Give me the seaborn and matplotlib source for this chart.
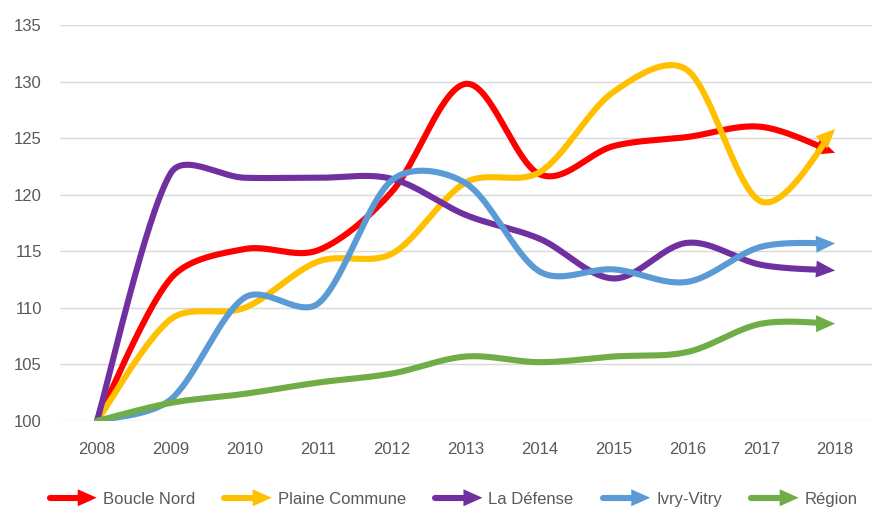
import numpy as np
import pandas as pd
import matplotlib
matplotlib.use("Agg")
import matplotlib.pyplot as plt
import seaborn as sns
from matplotlib.lines import Line2D
from matplotlib.patches import Polygon
from matplotlib.legend_handler import HandlerBase

# Indices par pôle (base 100 en 2008)
annees = [2008, 2009, 2010, 2011, 2012, 2013, 2014, 2015, 2016, 2017, 2018]
boucle_nord = [100, 112.6, 115.2, 115.1, 120.3, 129.8, 121.8, 124.3, 125.1, 126.0, 123.7]
plaine_commune = [100, 109.0, 110.0, 114.1, 114.8, 121.1, 122.0, 129.1, 131.0, 119.4, 125.8]
la_defense = [100, 121.9, 121.5, 121.5, 121.4, 118.2, 116.1, 112.6, 115.75, 113.8, 113.3]
ivry_vitry = [100, 101.9, 110.9, 110.4, 121.3, 121.0, 113.2, 113.4, 112.3, 115.4, 115.7]
region = [100, 101.6, 102.4, 103.4, 104.2, 105.7, 105.2, 105.7, 106.1, 108.6, 108.6]

series = ["Boucle Nord", "Plaine Commune", "La Défense", "Ivry-Vitry", "Région"]
valeurs = [boucle_nord, plaine_commune, la_defense, ivry_vitry, region]
couleurs = ["#FF0000", "#FFC000", "#7030A0", "#5B9BD5", "#70AD47"]

GRIS = "#595959"
LW = 4.4          # epaisseur des courbes (pt)
HEAD_L = 19       # longueur de la pointe (px)
HEAD_W = 17       # largeur de la pointe (px)
FS = 12

sns.set_style("white")
plt.rcParams["font.family"] = ["Liberation Sans", "DejaVu Sans"]


def lissage_pix(pts, n=40):
    """Courbe lissee facon Excel (Bezier), calculee en pixels"""
    P = np.vstack([pts[0], pts, pts[-1]])
    out = [pts[0]]
    t = np.linspace(0, 1, n)[1:, None]
    for i in range(len(pts) - 1):
        p0, p1, p2, p3 = P[i], P[i + 1], P[i + 2], P[i + 3]
        seg = np.linalg.norm(p2 - p1)
        t1 = (p2 - p0) / 6
        t2 = (p3 - p1) / 6
        # on limite la tangente a un tiers du segment (moins de depassement)
        if np.linalg.norm(t1) > seg / 3:
            t1 = t1 / np.linalg.norm(t1) * seg / 3
        if np.linalg.norm(t2) > seg / 3:
            t2 = t2 / np.linalg.norm(t2) * seg / 3
        c1 = p1 + t1
        c2 = p2 - t2
        b = (1 - t) ** 3 * p1 + 3 * (1 - t) ** 2 * t * c1 + 3 * (1 - t) * t ** 2 * c2 + t ** 3 * p2
        out.extend(b)
    return np.array(out)


class HandlerFleche(HandlerBase):
    """Legende : trait + pointe de fleche"""
    def create_artists(self, legend, orig_handle, xdescent, ydescent,
                       width, height, fontsize, trans):
        c = orig_handle.get_color()
        y = height / 2 - ydescent
        x0 = -xdescent
        hl, hw = HEAD_L * 0.72, HEAD_W * 0.72
        ligne = Line2D([x0 + 2, x0 + width - hl + 1], [y, y], color=c, lw=LW,
                       solid_capstyle="round", transform=trans)
        tri = Polygon([[x0 + width - hl, y - hw / 2], [x0 + width, y],
                       [x0 + width - hl, y + hw / 2]], closed=True,
                      fc=c, ec="none", transform=trans)
        return [ligne, tri]


fig = plt.figure(figsize=(8.73, 5.14), dpi=100)
ax = fig.add_axes([60 / 873, 1 - 421 / 514, 812 / 873, 396 / 514])
ax.set_xlim(2007.5, 2018.5)
ax.set_ylim(100, 135)

# construction des courbes lissees, coupees avant la pointe
lignes = []
pointes = []
inv = ax.transData.inverted()
for nom, vals in zip(series, valeurs):
    pts = ax.transData.transform(np.column_stack([annees, vals]))
    pix = lissage_pix(pts)
    tip = pts[-1]
    d = (tip - pts[-2]) / np.linalg.norm(tip - pts[-2])
    dist = np.linalg.norm(pix - tip, axis=1)
    garde = dist >= HEAD_L * 0.85
    garde[: len(garde) // 2] = True
    courbe = inv.transform(pix[garde])
    lignes.append(pd.DataFrame({"annee": courbe[:, 0], "indice": courbe[:, 1], "serie": nom}))
    base = tip - d * HEAD_L
    perp = np.array([-d[1], d[0]])
    tri_pix = np.array([base + perp * HEAD_W / 2, tip, base - perp * HEAD_W / 2])
    pointes.append(inv.transform(tri_pix))

df = pd.concat(lignes, ignore_index=True)

sns.lineplot(data=df, x="annee", y="indice", hue="serie", hue_order=series,
             palette=couleurs, estimator=None, sort=False, linewidth=LW,
             legend=False, ax=ax, solid_capstyle="round")

for i, (ln, tri, c) in enumerate(zip(ax.lines, pointes, couleurs)):
    ln.set_zorder(3 + i * 0.1)
    ax.add_patch(Polygon(tri, closed=True, fc=c, ec="none", zorder=3 + i * 0.1 + 0.01))

# axes
ax.set_xticks(annees)
ax.set_yticks(range(100, 136, 5))
ax.set_xlabel("")
ax.set_ylabel("")
ax.yaxis.grid(True, color="#D9D9D9", lw=1)
ax.xaxis.grid(False)
for s in ax.spines.values():
    s.set_visible(False)
ax.tick_params(axis="both", length=0, labelsize=FS, colors=GRIS)
ax.tick_params(axis="y", pad=13)
ax.tick_params(axis="x", pad=15)

# legende
handles = [Line2D([], [], color=c) for c in couleurs]
fig.legend(handles, series, loc="center", bbox_to_anchor=(0.518, 0.029), ncol=5,
           frameon=False, fontsize=FS, labelcolor=GRIS, handlelength=3.0,
           handletextpad=0.36, columnspacing=1.6,
           handler_map={Line2D: HandlerFleche()})

fig.savefig("out.png", dpi=100)
